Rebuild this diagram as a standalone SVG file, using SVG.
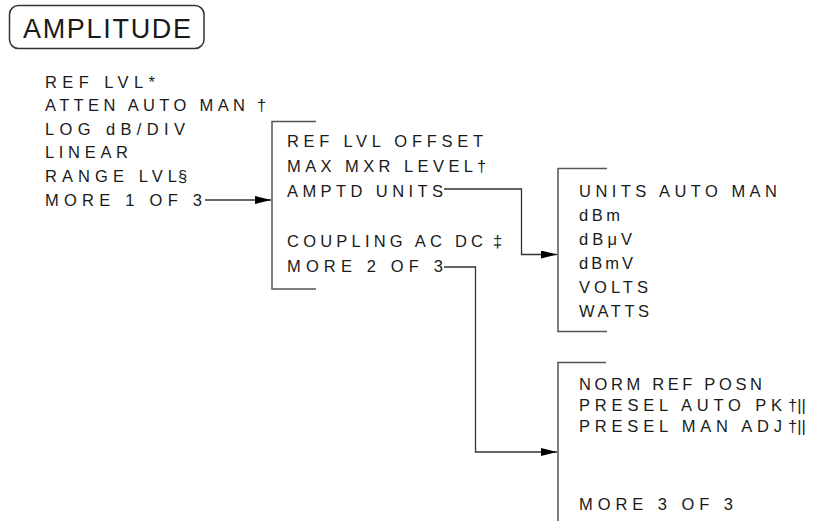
<svg xmlns="http://www.w3.org/2000/svg" width="814" height="521" viewBox="0 0 814 521">
<defs>
<style>
.t{font-family:"Liberation Sans",Arial,sans-serif;font-size:16.5px;fill:#1a1a1a;}
.title{font-family:"Liberation Sans",Arial,sans-serif;font-size:27px;fill:#1a1a1a;}
.br{fill:none;stroke:#555;stroke-width:1.5;}
.cn{fill:none;stroke:#333;stroke-width:1.3;}
</style>
<marker id="ah" viewBox="0 0 16 8" refX="16" refY="4" markerWidth="16" markerHeight="8" markerUnits="userSpaceOnUse" orient="auto">
<path d="M0,0 L16,4 L0,8 Z" fill="#000"/>
</marker>
</defs>
<rect width="814" height="521" fill="#fff"/>
<g id="title">
<rect x="9.5" y="5.5" width="194.5" height="43" rx="9" fill="none" stroke="#333" stroke-width="1.5"/>
<text class="title" x="23" y="37.5" textLength="168" lengthAdjust="spacing">AMPLITUDE</text>
</g>
<g id="menu1">
<text class="t" x="45" y="87.5" textLength="110" lengthAdjust="spacing">REF LVL*</text>
<text class="t" x="45" y="111.1" textLength="200" lengthAdjust="spacing">ATTEN AUTO MAN</text>
<text class="t" x="257" y="111.1">†</text>
<text class="t" x="45" y="134.7" textLength="140" lengthAdjust="spacing">LOG dB/DIV</text>
<text class="t" x="45" y="158.3" textLength="83" lengthAdjust="spacing">LINEAR</text>
<text class="t" x="45" y="181.9" textLength="132" lengthAdjust="spacing">RANGE LVL</text>
<text class="t" x="178" y="181.9">§</text>
<text class="t" x="45" y="205.5" textLength="157" lengthAdjust="spacing">MORE 1 OF 3</text>
</g>
<g id="menu2">
<path class="br" d="M316,121.5 H272 V289 H316"/>
<text class="t" x="287" y="147" textLength="196" lengthAdjust="spacing">REF LVL OFFSET</text>
<text class="t" x="287" y="172" textLength="186" lengthAdjust="spacing">MAX MXR LEVEL</text>
<text class="t" x="477" y="172">†</text>
<text class="t" x="287" y="197" textLength="156" lengthAdjust="spacing">AMPTD UNITS</text>
<text class="t" x="287" y="247" textLength="196" lengthAdjust="spacing">COUPLING AC DC</text>
<text class="t" x="493" y="247">‡</text>
<text class="t" x="287" y="272" textLength="156" lengthAdjust="spacing">MORE 2 OF 3</text>
</g>
<g id="menu3">
<path class="br" d="M607,168.5 H558 V331.5 H607"/>
<text class="t" x="579" y="197" textLength="198" lengthAdjust="spacing">UNITS AUTO MAN</text>
<text class="t" x="579" y="221" textLength="41" lengthAdjust="spacing">dBm</text>
<text class="t" x="579" y="245" textLength="53" lengthAdjust="spacing">dBμV</text>
<text class="t" x="579" y="269" textLength="54" lengthAdjust="spacing">dBmV</text>
<text class="t" x="579" y="293" textLength="69" lengthAdjust="spacing">VOLTS</text>
<text class="t" x="579" y="317" textLength="70" lengthAdjust="spacing">WATTS</text>
</g>
<g id="menu4">
<path class="br" d="M606,362.5 H558 V521"/>
<text class="t" x="579" y="390" textLength="183" lengthAdjust="spacing">NORM REF POSN</text>
<text class="t" x="579" y="411" textLength="203" lengthAdjust="spacing">PRESEL AUTO PK</text>
<text class="t" x="788" y="411">†||</text>
<text class="t" x="579" y="432" textLength="203" lengthAdjust="spacing">PRESEL MAN ADJ</text>
<text class="t" x="788" y="432">†||</text>
<text class="t" x="579" y="510" textLength="154" lengthAdjust="spacing">MORE 3 OF 3</text>
</g>
<g id="connectors">
<path class="cn" d="M205,200 H271" marker-end="url(#ah)"/>
<path class="cn" d="M444,189 H521.5 V254.5 H557" marker-end="url(#ah)"/>
<path class="cn" d="M444,267 H475.5 V452 H557" marker-end="url(#ah)"/>
</g>
</svg>
